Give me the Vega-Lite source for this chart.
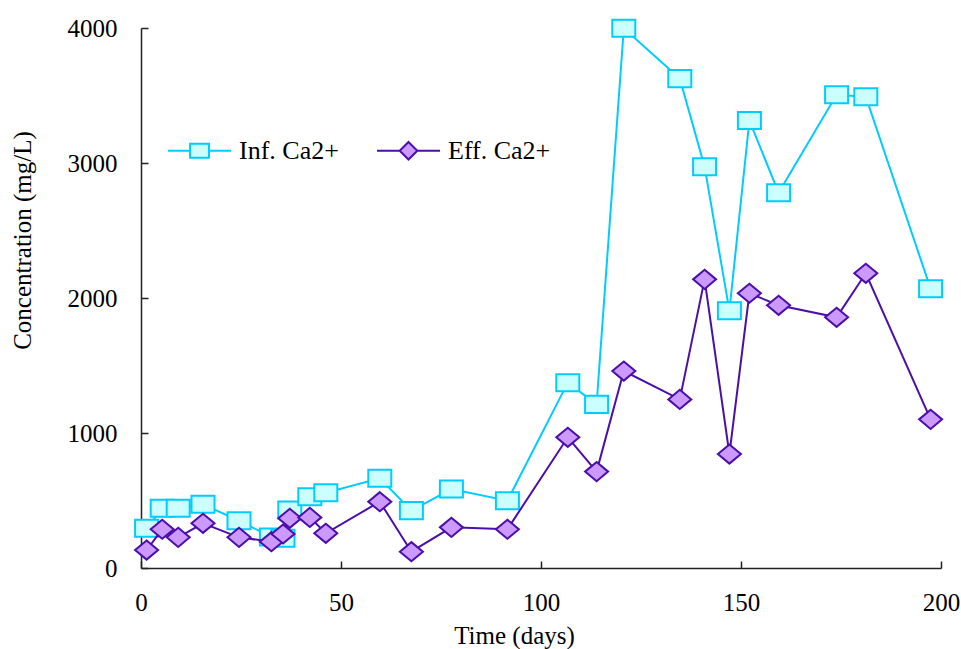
{
  "$schema": "https://vega.github.io/schema/vega-lite/v6.json",
  "width": 800,
  "height": 540,
  "autosize": {"type": "none"},
  "padding": {"left": 141, "top": 28, "right": 20, "bottom": 81},
  "background": "white",
  "config": {
    "view": {"stroke": null},
    "font": "Liberation Serif",
    "axis": {
      "grid": false,
      "domainColor": "#222222",
      "domainWidth": 1.5,
      "tickColor": "#222222",
      "tickWidth": 1.5,
      "tickSize": -7,
      "labelFont": "Liberation Serif",
      "labelFontSize": 25,
      "labelColor": "black",
      "labelFlush": false,
      "labelOverlap": false,
      "titleFont": "Liberation Serif",
      "titleFontSize": 25,
      "titleFontWeight": "normal",
      "titleColor": "black"
    }
  },
  "data": {
    "values": [
      {"day": 1.4, "series": "Inf. Ca2+", "conc": 294},
      {"day": 5.3, "series": "Inf. Ca2+", "conc": 442},
      {"day": 9.3, "series": "Inf. Ca2+", "conc": 442},
      {"day": 15.5, "series": "Inf. Ca2+", "conc": 472},
      {"day": 24.5, "series": "Inf. Ca2+", "conc": 350},
      {"day": 32.6, "series": "Inf. Ca2+", "conc": 230},
      {"day": 35.5, "series": "Inf. Ca2+", "conc": 220},
      {"day": 37.2, "series": "Inf. Ca2+", "conc": 430},
      {"day": 42.2, "series": "Inf. Ca2+", "conc": 528},
      {"day": 46.2, "series": "Inf. Ca2+", "conc": 558},
      {"day": 59.7, "series": "Inf. Ca2+", "conc": 664},
      {"day": 67.6, "series": "Inf. Ca2+", "conc": 425},
      {"day": 77.6, "series": "Inf. Ca2+", "conc": 585},
      {"day": 91.6, "series": "Inf. Ca2+", "conc": 499},
      {"day": 106.7, "series": "Inf. Ca2+", "conc": 1373},
      {"day": 113.9, "series": "Inf. Ca2+", "conc": 1212},
      {"day": 120.7, "series": "Inf. Ca2+", "conc": 3998},
      {"day": 134.7, "series": "Inf. Ca2+", "conc": 3625},
      {"day": 140.9, "series": "Inf. Ca2+", "conc": 2973},
      {"day": 147.1, "series": "Inf. Ca2+", "conc": 1906},
      {"day": 152.1, "series": "Inf. Ca2+", "conc": 3314},
      {"day": 159.4, "series": "Inf. Ca2+", "conc": 2780},
      {"day": 173.9, "series": "Inf. Ca2+", "conc": 3506},
      {"day": 181.2, "series": "Inf. Ca2+", "conc": 3491},
      {"day": 197.4, "series": "Inf. Ca2+", "conc": 2069},
      {"day": 1.4, "series": "Eff. Ca2+", "conc": 133},
      {"day": 5.3, "series": "Eff. Ca2+", "conc": 287},
      {"day": 9.3, "series": "Eff. Ca2+", "conc": 227},
      {"day": 15.5, "series": "Eff. Ca2+", "conc": 331},
      {"day": 24.5, "series": "Eff. Ca2+", "conc": 227},
      {"day": 32.6, "series": "Eff. Ca2+", "conc": 195},
      {"day": 35.5, "series": "Eff. Ca2+", "conc": 252},
      {"day": 37.2, "series": "Eff. Ca2+", "conc": 368},
      {"day": 42.2, "series": "Eff. Ca2+", "conc": 375},
      {"day": 46.2, "series": "Eff. Ca2+", "conc": 257},
      {"day": 59.7, "series": "Eff. Ca2+", "conc": 491},
      {"day": 67.6, "series": "Eff. Ca2+", "conc": 121},
      {"day": 77.6, "series": "Eff. Ca2+", "conc": 301},
      {"day": 91.6, "series": "Eff. Ca2+", "conc": 287},
      {"day": 106.7, "series": "Eff. Ca2+", "conc": 968},
      {"day": 113.9, "series": "Eff. Ca2+", "conc": 714},
      {"day": 120.7, "series": "Eff. Ca2+", "conc": 1459},
      {"day": 134.7, "series": "Eff. Ca2+", "conc": 1249},
      {"day": 140.9, "series": "Eff. Ca2+", "conc": 2138},
      {"day": 147.1, "series": "Eff. Ca2+", "conc": 844},
      {"day": 152.1, "series": "Eff. Ca2+", "conc": 2035},
      {"day": 159.4, "series": "Eff. Ca2+", "conc": 1946},
      {"day": 173.9, "series": "Eff. Ca2+", "conc": 1857},
      {"day": 181.2, "series": "Eff. Ca2+", "conc": 2183},
      {"day": 197.4, "series": "Eff. Ca2+", "conc": 1101}
    ]
  },
  "encoding": {
    "x": {
      "field": "day", "type": "quantitative",
      "scale": {"domain": [0, 200], "nice": false, "zero": false},
      "axis": {"values": [0, 50, 100, 150, 200], "format": "d", "title": "Time (days)", "labelPadding": 29, "titleX": 373, "titleY": 67, "titleBaseline": "middle", "titleAnchor": null}
    },
    "y": {
      "field": "conc", "type": "quantitative",
      "scale": {"domain": [0, 4000], "nice": false},
      "axis": {"values": [0, 1000, 2000, 3000, 4000], "format": "d", "title": "Concentration (mg/L)", "labelPadding": 31, "titleX": -119, "titleY": 212, "titleBaseline": "middle", "titleAlign": "center", "titleAngle": -90}
    }
  },
  "layer": [
    {
      "transform": [{"filter": "datum.series === 'Inf. Ca2+'"}],
      "mark": {"type": "line", "strokeWidth": 2},
      "encoding": {
        "color": {
          "field": "series", "type": "nominal",
          "scale": {"domain": ["Inf. Ca2+", "Eff. Ca2+"], "range": ["#00CCFF", "#4B0FA8"]},
          "legend": {
            "title": null,
            "orient": "none",
            "legendX": 26,
            "legendY": 90,
            "direction": "horizontal",
            "columns": 2,
            "padding": 0,
            "columnPadding": 34,
            "symbolSize": 3969,
            "symbolStrokeWidth": 2,
            "labelFont": "Liberation Serif",
            "labelFontSize": 26,
            "labelColor": "black",
            "labelOffset": 7,
            "encode": {
              "symbols": {
                "update": {
                  "shape": {"signal": "datum.value === 'Inf. Ca2+' ? 'M-1,0H-0.3M0.3,0H1M-0.3,-0.22H0.3V0.22H-0.3Z' : 'M-1,0H-0.28M0.28,0H1M0,-0.28L0.28,0L0,0.28L-0.28,0Z'"},
                  "fill": {"signal": "datum.value === 'Inf. Ca2+' ? '#CCFFFF' : '#CC99FF'"},
                  "strokeWidth": {"value": 2}
                }
              }
            }
          }
        }
      }
    },
    {
      "transform": [{"filter": "datum.series === 'Inf. Ca2+'"}],
      "mark": {"type": "point", "shape": "M-1,-0.74H1V0.74H-1Z", "size": 529, "filled": false, "fill": "#CCFFFF", "fillOpacity": 1, "stroke": "#00CCFF", "strokeWidth": 2, "opacity": 1}
    },
    {
      "transform": [{"filter": "datum.series === 'Eff. Ca2+'"}],
      "mark": {"type": "line", "strokeWidth": 2},
      "encoding": {
        "color": {"field": "series", "type": "nominal"}
      }
    },
    {
      "transform": [{"filter": "datum.series === 'Eff. Ca2+'"}],
      "mark": {"type": "point", "shape": "M0,-0.83L1,0L0,0.83L-1,0Z", "size": 529, "filled": false, "fill": "#CC99FF", "fillOpacity": 1, "stroke": "#4B0FA8", "strokeWidth": 2, "opacity": 1}
    }
  ]
}
